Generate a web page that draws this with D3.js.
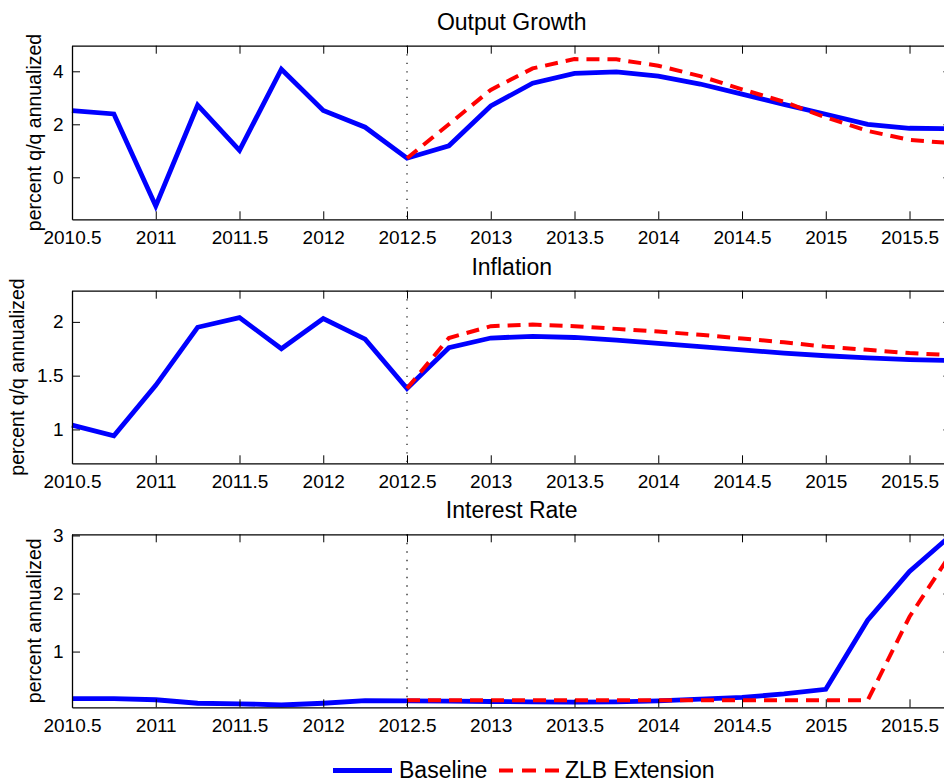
<!DOCTYPE html>
<html>
<head>
<meta charset="utf-8">
<script src="https://cdn.jsdelivr.net/npm/d3@7/dist/d3.min.js"></script>
<style>
  html, body { margin: 0; padding: 0; background: #fff; }
  svg { display: block; overflow: hidden; }
  text { font-family: "Liberation Sans", Arial, Helvetica, sans-serif; fill: #000; }
</style>
</head>
<body>
<svg id="chart" width="944" height="783"></svg>
<script>
// ---- data ----
const quarters = [2010.5, 2010.75, 2011, 2011.25, 2011.5, 2011.75, 2012, 2012.25,
  2012.5, 2012.75, 2013, 2013.25, 2013.5, 2013.75, 2014, 2014.25, 2014.5, 2014.75,
  2015, 2015.25, 2015.5, 2015.75];
const forecastStart = 2012.5;

const outputBaseline = [2.52, 2.39, -1.08, 2.72, 1.02, 4.08, 2.52, 1.89, 0.72, 1.19,
  2.69, 3.55, 3.92, 3.98, 3.82, 3.52, 3.14, 2.75, 2.38, 2.0, 1.85, 1.83];
const outputZLB = [null, null, null, null, null, null, null, null, 0.72, 2.0,
  3.3, 4.11, 4.46, 4.45, 4.21, 3.82, 3.32, 2.85, 2.26, 1.75, 1.41, 1.29];

const inflationBaseline = [1.04, 0.94, 1.41, 1.95, 2.04, 1.75, 2.03, 1.84, 1.38, 1.76,
  1.85, 1.865, 1.855, 1.83, 1.80, 1.77, 1.74, 1.71, 1.685, 1.665, 1.65, 1.64];
const inflationZLB = [null, null, null, null, null, null, null, null, 1.38, 1.85,
  1.96, 1.975, 1.96, 1.935, 1.91, 1.88, 1.845, 1.81, 1.77, 1.74, 1.71, 1.69];

const rateBaseline = [0.19, 0.19, 0.17, 0.11, 0.10, 0.08, 0.11, 0.155, 0.15, 0.145,
  0.14, 0.135, 0.13, 0.135, 0.15, 0.18, 0.21, 0.27, 0.35, 1.54, 2.38, 3.01];
const rateZLB = [null, null, null, null, null, null, null, null, 0.16, 0.16,
  0.16, 0.16, 0.16, 0.16, 0.16, 0.16, 0.16, 0.16, 0.16, 0.16, 1.60, 2.70];

const xTicks = [2010.5, 2011, 2011.5, 2012, 2012.5, 2013, 2013.5, 2014, 2014.5, 2015, 2015.5];
const titles = ["Output Growth", "Inflation", "Interest Rate"];
const yLabels = ["percent q/q annualized", "percent q/q annualized", "percent annualized"];
const yDomains = [[-1.585, 4.966], [0.685, 2.29], [0.04, 3.02]];
const yTicks = [[0, 2, 4], [1, 1.5, 2], [1, 2, 3]];
const legendNames = ["Baseline", "ZLB Extension"];

// ---- layout ----
const svg = d3.select("#chart");
const left = 72, right = 951.4;
const panels = [
  { top: 45.7, bottom: 219.3, ylabX: 41 },
  { top: 290.7, bottom: 463.3, ylabX: 24 },
  { top: 534.3, bottom: 707.3, ylabX: 41 }
];
const seriesSets = [
  [outputBaseline, outputZLB],
  [inflationBaseline, inflationZLB],
  [rateBaseline, rateZLB]
];
const colors = ["#0000ff", "#ff0000"];
const tickLen = 8;

const x = d3.scaleLinear().domain([2010.5, 2015.75]).range([left, right]);
const fmt = d => String(d);

panels.forEach((p, i) => {
  const y = d3.scaleLinear().domain(yDomains[i]).range([p.bottom, p.top]);
  const g = svg.append("g");

  // forecast start dotted line
  g.append("line")
    .attr("x1", x(forecastStart)).attr("x2", x(forecastStart))
    .attr("y1", p.top).attr("y2", p.bottom)
    .attr("stroke", "#222").attr("stroke-width", 1.3)
    .attr("stroke-dasharray", "1.4,7.1");

  // series
  const line = d3.line()
    .defined(d => d[1] !== null)
    .x(d => x(d[0])).y(d => y(d[1]));
  const [base, zlb] = seriesSets[i];
  g.append("path")
    .datum(quarters.map((q, k) => [q, base[k]]))
    .attr("d", line)
    .attr("fill", "none").attr("stroke", colors[0])
    .attr("stroke-width", 4.8).attr("stroke-linejoin", "miter");
  g.append("path")
    .datum(quarters.map((q, k) => [q, zlb[k]]))
    .attr("d", line)
    .attr("fill", "none").attr("stroke", colors[1])
    .attr("stroke-width", 4).attr("stroke-dasharray", "13,8");

  // axes
  const xAxisB = d3.axisBottom(x).tickValues(xTicks).tickFormat(fmt).tickSizeInner(-tickLen).tickSizeOuter(0).tickPadding(11);
  const xAxisT = d3.axisTop(x).tickValues(xTicks).tickFormat("").tickSizeInner(-tickLen).tickSizeOuter(0);
  const yAxisL = d3.axisLeft(y).tickValues(yTicks[i]).tickFormat(fmt).tickSizeInner(-tickLen).tickSizeOuter(0).tickPadding(8.5);
  const yAxisR = d3.axisRight(y).tickValues(yTicks[i]).tickFormat("").tickSizeInner(-tickLen).tickSizeOuter(0);

  const styleAxis = sel => {
    sel.selectAll("path.domain").attr("stroke", "#000").attr("stroke-width", 1.3);
    sel.selectAll(".tick line").attr("stroke", "#000").attr("stroke-width", 1);
    sel.selectAll("text").attr("font-size", 19).attr("font-family", "Liberation Sans, Arial, sans-serif").attr("fill", "#000");
  };

  g.append("g").attr("transform", `translate(0,${p.bottom})`).call(xAxisB).call(styleAxis);
  g.append("g").attr("transform", `translate(0,${p.top})`).call(xAxisT).call(styleAxis);
  g.append("g").attr("transform", `translate(${left},0)`).call(yAxisL).call(styleAxis);
  g.append("g").attr("transform", `translate(${right},0)`).call(yAxisR).call(styleAxis);

  // title
  g.append("text")
    .attr("x", (left + right) / 2).attr("y", p.top - 16)
    .attr("text-anchor", "middle").attr("font-size", 23)
    .text(titles[i]);

  // y label
  g.append("text")
    .attr("transform", `translate(${p.ylabX},${(p.top + p.bottom) / 2}) rotate(-90)`)
    .attr("text-anchor", "middle").attr("font-size", 19.5)
    .text(yLabels[i]);
});

// legend
const legY = 770.5;
const leg = svg.append("g");
leg.append("line").attr("x1", 333).attr("x2", 392).attr("y1", legY).attr("y2", legY)
  .attr("stroke", colors[0]).attr("stroke-width", 4.8);
leg.append("text").attr("x", 399).attr("y", 778).attr("font-size", 23).text(legendNames[0]);
leg.append("line").attr("x1", 499).attr("x2", 559).attr("y1", legY).attr("y2", legY)
  .attr("stroke", colors[1]).attr("stroke-width", 4).attr("stroke-dasharray", "14,9");
leg.append("text").attr("x", 565).attr("y", 778).attr("font-size", 23).text(legendNames[1]);
</script>
</body>
</html>
